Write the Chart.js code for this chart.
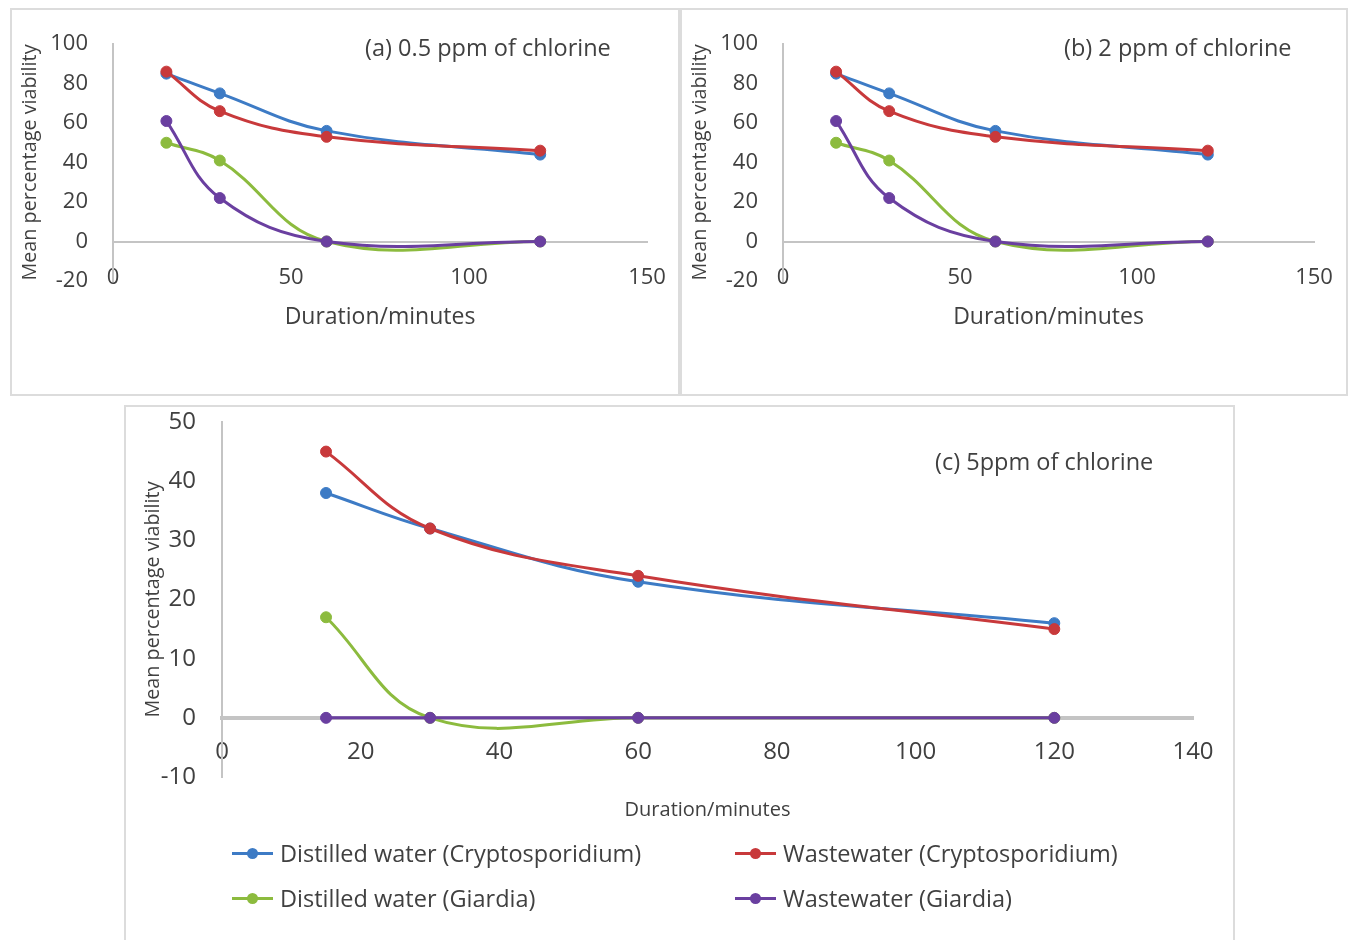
<!DOCTYPE html>
<html>
<head>
<meta charset="utf-8">
<script src="https://cdn.jsdelivr.net/npm/chart.js@4.4.1/dist/chart.umd.min.js"></script>
<style>
    body { margin: 0; width: 1351px; height: 940px; overflow: hidden; background: #fff; font-family: 'Open Sans', sans-serif; color: #404040; }
    .panel { position: absolute; outline: 2px solid #dcdcdc; outline-offset: -2px; }
    .panel canvas { position: absolute; left: 0; top: 0; }
    .note { position: absolute; font-size: 23.5px; line-height: 1; white-space: nowrap; color: #404040; transform: translateY(-50%); }
    .legend-item { position: absolute; font-size: 23.5px; white-space: nowrap; display: flex; align-items: center; transform: translateY(-50%); color: #404040; }
    .legend-item .mark { position: relative; width: 41px; height: 3px; margin-right: 7px; }
    .legend-item .mark::after { content: ''; position: absolute; left: 15px; top: -4px; width: 11px; height: 11px; border-radius: 50%; background: inherit; }
</style>
</head>
<body>

<div class="panel" style="left:10px; top:8px; width:670px; height:388px;"><canvas id="chart-a"></canvas></div>
<div class="panel" style="left:680px; top:8px; width:668px; height:388px;"><canvas id="chart-b"></canvas></div>
<div class="panel" style="left:124px; top:405px; width:1111px; height:540px;"><canvas id="chart-c"></canvas></div>

<div class="note" style="left:365px; top:48px;">(a) 0.5 ppm of chlorine</div>
<div class="note" style="left:1064px; top:48px;">(b) 2 ppm of chlorine</div>
<div class="note" style="left:935px; top:462px;">(c) 5ppm of chlorine</div>

<div id="legend"></div>

<script>
// ========================================
// Data
// ========================================
const minutes = [15, 30, 60, 120];

const seriesNames = [
    'Distilled water (Cryptosporidium)',
    'Wastewater (Cryptosporidium)',
    'Distilled water (Giardia)',
    'Wastewater (Giardia)'
];
const seriesColors = ['#3D7BC5', '#C8393B', '#8CBB3E', '#6A3FA0'];

// (a) 0.5 ppm
const a_distilledCrypto = [85, 75, 56, 44];
const a_wasteCrypto = [86, 66, 53, 46];
const a_distilledGiardia = [50, 41, 0, 0];
const a_wasteGiardia = [61, 22, 0, 0];

// (b) 2 ppm
const b_distilledCrypto = [85, 75, 56, 44];
const b_wasteCrypto = [86, 66, 53, 46];
const b_distilledGiardia = [50, 41, 0, 0];
const b_wasteGiardia = [61, 22, 0, 0];

// (c) 5 ppm
const c_distilledCrypto = [38, 32, 23, 16];
const c_wasteCrypto = [45, 32, 24, 15];
const c_distilledGiardia = [17, 0, 0, 0];
const c_wasteGiardia = [0, 0, 0, 0];

// axis ticks
const xTicksTop = [0, 50, 100, 150];
const yTicksTop = [-20, 0, 20, 40, 60, 80, 100];
const xTicksC = [0, 20, 40, 60, 80, 100, 120, 140];
const yTicksC = [-10, 0, 10, 20, 30, 40, 50];

Chart.defaults.font.family = "'Open Sans', sans-serif";
Chart.defaults.color = '#404040';
Chart.defaults.plugins.legend.display = false;
Chart.defaults.plugins.tooltip.enabled = false;
Chart.defaults.animation = false;

const axisGray = '#c4c4c4';

function buildDatasets(rows, pointRadius) {
    return rows.map((values, i) => ({
        label: seriesNames[i],
        data: values.map((v, k) => ({ x: minutes[k], y: v })),
        borderColor: seriesColors[i],
        backgroundColor: seriesColors[i],
        borderWidth: 3,
        tension: 0.4,
        pointRadius: pointRadius,
        pointBorderWidth: 1,
        order: rows.length - i   // later series drawn on top, like Excel
    }));
}

function createPanel(id, rows, xTicks, yTicks, s) {
    const ctx = document.getElementById(id);
    return new Chart(ctx, {
        type: 'line',
        data: { datasets: buildDatasets(rows, s.pointRadius) },
        options: {
            responsive: true,
            maintainAspectRatio: false,
            layout: { padding: s.padding },
            scales: {
                x: {
                    type: 'linear',
                    position: { y: 0 },
                    min: xTicks[0],
                    max: xTicks[xTicks.length - 1],
                    ticks: { stepSize: xTicks[1] - xTicks[0], padding: s.xTickPad, font: { size: s.tickSize }, maxRotation: 0 },
                    grid: { display: false, drawTicks: false },
                    border: { color: axisGray, width: s.zeroWidth },
                    title: { display: true, text: 'Duration/minutes', font: { size: s.xTitleSize }, padding: { top: s.xTitlePad, bottom: 0 } },
                    afterFit: (scale) => { scale.paddingLeft = 0; scale.paddingRight = 0; }
                },
                y: {
                    min: yTicks[0],
                    max: yTicks[yTicks.length - 1],
                    ticks: { stepSize: yTicks[1] - yTicks[0], padding: s.yTickPad, font: { size: s.tickSize } },
                    grid: { display: false, drawTicks: false },
                    border: { color: axisGray, width: 2 },
                    title: { display: true, text: 'Mean percentage viability', font: { size: 19.8 }, padding: 0 },
                    afterFit: (scale) => { scale.width = s.yWidth; scale.paddingTop = 8; scale.paddingBottom = 8; }
                }
            }
        }
    });
}

const topSettings = {
    padding: { left: 8, top: 36, right: 33, bottom: 115 },
    yWidth: 95, yTickPad: 25, xTickPad: 23, xTitlePad: -10,
    tickSize: 22, xTitleSize: 23, zeroWidth: 2, pointRadius: 5.5
};

createPanel('chart-a', [a_distilledCrypto, a_wasteCrypto, a_distilledGiardia, a_wasteGiardia], xTicksTop, yTicksTop, topSettings);
createPanel('chart-b', [b_distilledCrypto, b_wasteCrypto, b_distilledGiardia, b_wasteGiardia], xTicksTop, yTicksTop,
    Object.assign({}, topSettings, { padding: { left: 8, top: 36, right: 34, bottom: 115 } }));
createPanel('chart-c', [c_distilledCrypto, c_wasteCrypto, c_distilledGiardia, c_wasteGiardia], xTicksC, yTicksC, {
    padding: { left: 17, top: 17, right: 42, bottom: 168 },
    yWidth: 81, yTickPad: 26, xTickPad: 20, xTitlePad: 12,
    tickSize: 24, xTitleSize: 20, zeroWidth: 4, pointRadius: 5.5
});

// ========================================
// Legend (2 x 2, under panel c)
// ========================================
const legendPos = [[232, 853], [735, 853], [232, 898], [735, 898]];
const legend = document.getElementById('legend');
seriesNames.forEach((name, i) => {
    const item = document.createElement('div');
    item.className = 'legend-item';
    item.style.left = legendPos[i][0] + 'px';
    item.style.top = legendPos[i][1] + 'px';
    item.innerHTML = `<span class="mark" style="background:${seriesColors[i]}"></span>${name}`;
    legend.appendChild(item);
});
</script>
</body>
</html>
